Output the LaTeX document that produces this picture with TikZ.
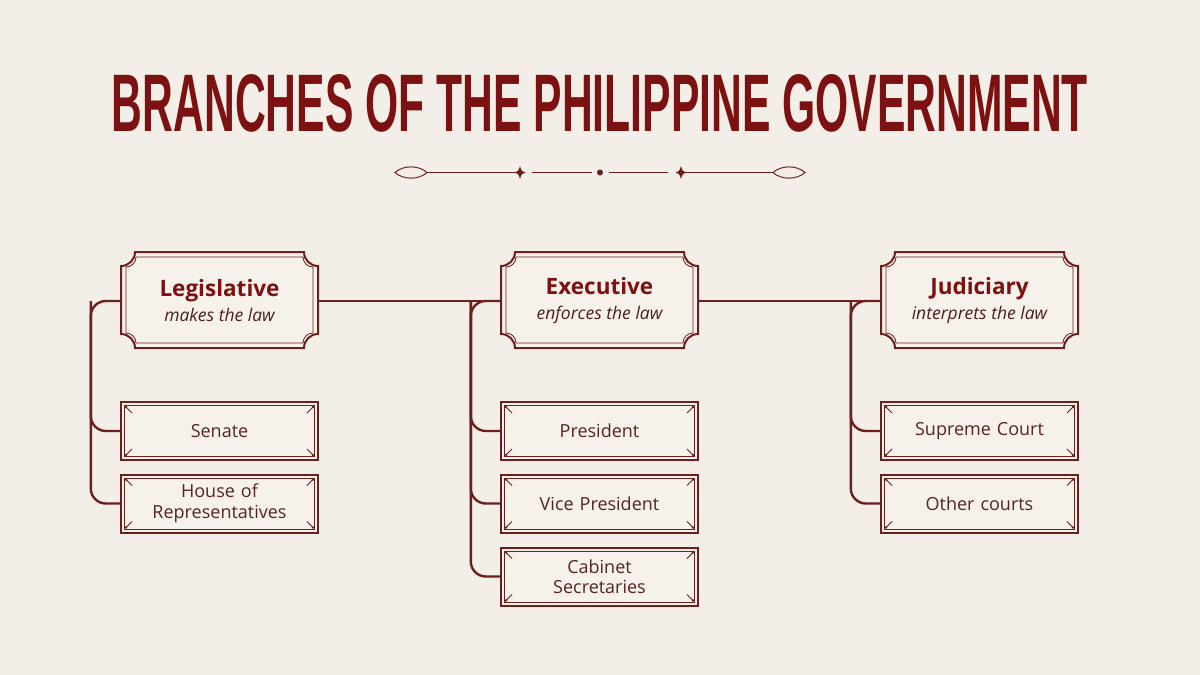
\documentclass[tikz,border=0pt]{standalone}
\usepackage{fontspec}
\setmainfont{Open Sans}
\newfontfamily\titrefont{Liberation Sans}
\usepackage{graphicx}
\usepackage{tikz}
\usetikzlibrary{calc}

\definecolor{fond}{HTML}{F3EEE7}
\definecolor{carte}{HTML}{F6F1EB}
\definecolor{bordeaux}{HTML}{7B1111}
\definecolor{trait}{HTML}{6B1F1F}
\definecolor{brun}{HTML}{552424}
\definecolor{encre}{HTML}{4A1E1E}

%	Cadre a coins rentrants : x1, y1, x2, y2, rayon, style
\newcommand{\cadreencoche}[6]{%
	\draw[#6] (#1+#5,#2) -- (#3-#5,#2)
		.. controls (#3-#5,#2+0.55*#5) and (#3-0.55*#5,#2+#5) .. (#3,#2+#5)
		-- (#3,#4-#5)
		.. controls (#3-0.55*#5,#4-#5) and (#3-#5,#4-0.55*#5) .. (#3-#5,#4)
		-- (#1+#5,#4)
		.. controls (#1+#5,#4-0.55*#5) and (#1+0.55*#5,#4-#5) .. (#1,#4-#5)
		-- (#1,#2+#5)
		.. controls (#1+0.55*#5,#2+#5) and (#1+#5,#2+0.55*#5) .. (#1+#5,#2) -- cycle;}

\tikzset{
	lien/.style={trait,line width=2.4pt,rounded corners=15pt},
	fin/.style={trait,line width=0.8pt},
	branche/.style={minimum width=197pt,minimum height=96pt,inner sep=0pt,align=center,font=\fontsize{17.5}{25}\selectfont},
	petite/.style={draw=trait,line width=2pt,fill=carte,minimum width=197pt,minimum height=58pt,text width=185pt,align=center,text=brun,font=\fontsize{18}{20.5}\selectfont},
}

\begin{document}
\begin{tikzpicture}[x=1pt,y=-1pt]
%	Trace du fond :
	\fill[fond] (0,0) rectangle (1200,675);
	\useasboundingbox (0,0) rectangle (1200,675);
%	Trace du titre :
	\node[inner sep=0pt,text=bordeaux] (titre) at (600,103.5) {\resizebox{976pt}{57pt}{\titrefont\bfseries BRANCHES OF THE PHILIPPINE GOVERNMENT}};
%	Trace de l'ornement :
	\draw[fin,line width=1pt] (395,172.5) .. controls (403,165) and (419,165) .. (427,172.5) .. controls (419,180) and (403,180) .. (395,172.5) -- cycle;
	\draw[fin,line width=1pt] (773,172.5) .. controls (781,165) and (797,165) .. (805,172.5) .. controls (797,180) and (781,180) .. (773,172.5) -- cycle;
	\draw[fin,line width=1.2pt] (427,172.5) -- (520,172.5);
	\draw[fin,line width=1.2pt] (532,172.5) -- (592,172.5);
	\draw[fin,line width=1.2pt] (609,172.5) -- (668,172.5);
	\draw[fin,line width=1.2pt] (681,172.5) -- (773,172.5);
	\fill[trait] (600,172.5) circle[radius=3pt];
	\foreach \x in {520,681}
		\fill[trait] (\x,166) .. controls (\x+1.5,171) .. (\x+5.5,172.5) .. controls (\x+1.5,174) .. (\x,179) .. controls (\x-1.5,174) .. (\x-5.5,172.5) .. controls (\x-1.5,171) .. (\x,166) -- cycle;
%	Trace des trois branches :
	\foreach \nom/\x/\titre/\role in {legis/121/Legislative/makes the law, exec/501/Executive/enforces the law, judic/881/Judiciary/interprets the law}{
		\cadreencoche{\x}{252}{\x+197}{348}{14}{trait,line width=2pt,fill=carte}
		\cadreencoche{\x+5}{257}{\x+192}{343}{10}{fin}
		\node[branche] (\nom) at (\x+98.5,301) {{\fontsize{22.5}{25}\selectfont\bfseries\color{bordeaux}\titre}\\{\itshape\color{encre}\role}};
	}
%	Trace des organes :
	\foreach \nom/\x/\y/\texte in {senat/121/431/Senate, chambre/121/503.5/House of\\Representatives, pres/501/431/President, vice/501/503.5/Vice President, cabinet/501/576.5/Cabinet\\Secretaries, cour/881/431/Supreme Court, autres/881/503.5/Other courts}
		\node[petite] (\nom) at (\x+98.5,\y) {\texte};
	\foreach \nom in {senat,chambre,pres,vice,cabinet,cour,autres}{
		\draw[fin] ($(\nom.north west)+(4.5,4.5)$) rectangle ($(\nom.south east)+(-4.5,-4.5)$);
		\foreach \a/\dx/\dy in {north west/1/1,north east/-1/1,south west/1/-1,south east/-1/-1}{
			\draw[fin] ($(\nom.\a)+(6*\dx,6*\dy)$) -- ++(6*\dx,6*\dy);
			\fill[trait] ($(\nom.\a)+(6*\dx,6*\dy)$) circle[radius=1.3pt];
		}
	}
%	Trace des liaisons :
	\draw[lien] (legis.east) -- (exec.west);
	\draw[lien] (exec.east) -- (judic.west);
	\draw[lien] (legis.west) -- ++(-30,0) |- (chambre.west);
	\draw[lien] ($(legis.west)+(-30,0)$) |- (senat.west);
	\draw[lien] (exec.west) -- ++(-30,0) |- (cabinet.west);
	\draw[lien] ($(exec.west)+(-30,0)$) |- (pres.west);
	\draw[lien] ($(exec.west)+(-30,0)$) |- (vice.west);
	\draw[lien] (judic.west) -- ++(-30,0) |- (autres.west);
	\draw[lien] ($(judic.west)+(-30,0)$) |- (cour.west);
\end{tikzpicture}
\end{document}
